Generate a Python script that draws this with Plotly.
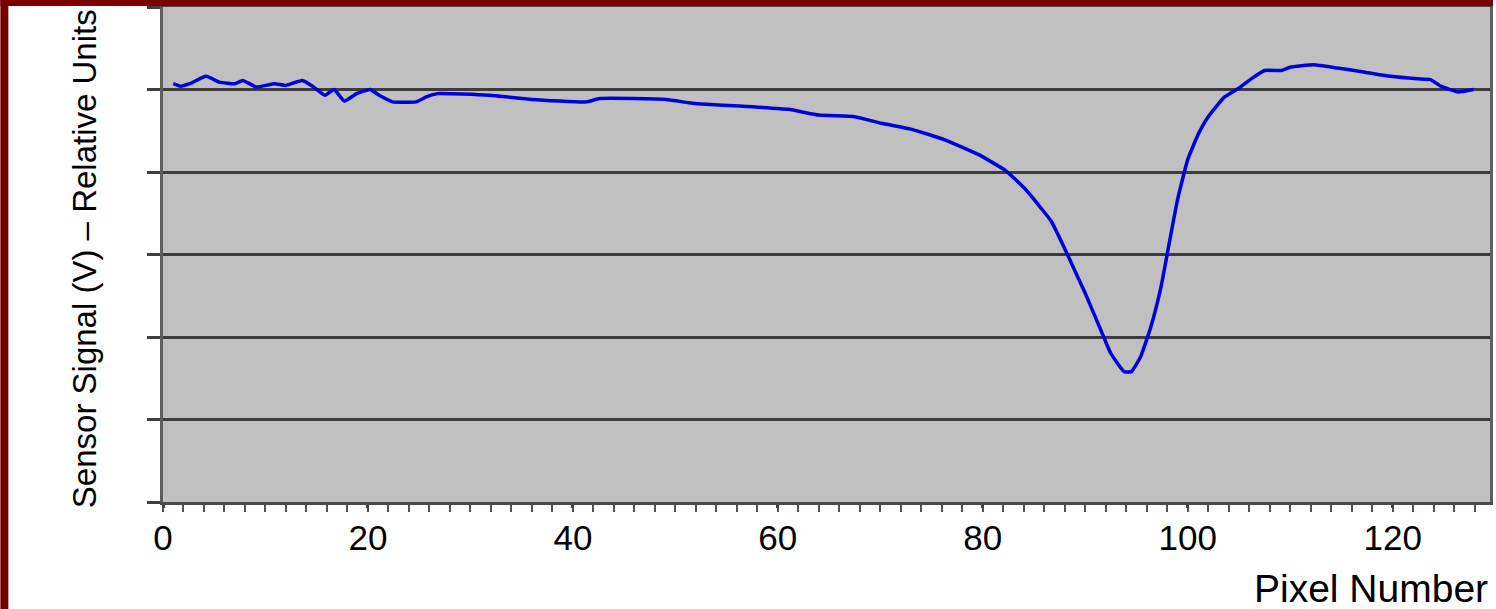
import plotly.graph_objects as go

# ---- data ----
pixel_number = [1, 1.7, 2.6, 4.2, 5.5, 7.0, 7.8, 9.1, 10.9, 12.0,
                13.6, 14.6, 15.8, 16.7, 17.7, 18.9, 20.2, 21.1, 22.4, 24.7,
                25.7, 26.8, 31.8, 36, 41.3, 42.6, 49.1, 51.3, 53, 56.2,
                61, 64, 67.5, 70.1, 73, 76.3, 79.6, 82.2, 84.1, 85.7,
                86.7, 88, 89, 90, 91.6, 92.5, 93.8, 94.5, 95.4, 96.4, 97.4,
                98.2, 99, 100, 101, 102, 103.6, 104.9, 106.1, 107.5, 109.1,
                110, 112.3, 114.6, 117.3, 119.8, 122.4, 123.7, 124.7, 126.4, 127.9]
sensor_signal = [5.07, 5.04, 5.07, 5.16, 5.09, 5.07, 5.11, 5.03, 5.07, 5.05,
                 5.11, 5.04, 4.93, 5.0, 4.86, 4.95, 5.0, 4.93, 4.85, 4.85,
                 4.91, 4.95, 4.93, 4.88, 4.85, 4.89, 4.88, 4.84, 4.82, 4.80,
                 4.76, 4.69, 4.67, 4.59, 4.52, 4.39, 4.21, 4.02, 3.80, 3.56,
                 3.40, 3.07, 2.8, 2.53, 2.06, 1.8, 1.58, 1.58, 1.76, 2.12, 2.61,
                 3.14, 3.66, 4.15, 4.45, 4.67, 4.91, 5.01, 5.12, 5.23, 5.23,
                 5.27, 5.30, 5.26, 5.21, 5.16, 5.13, 5.12, 5.04, 4.97, 5.0]
x_tick_values = [0, 20, 40, 60, 80, 100, 120]
x_tick_labels = ["0", "20", "40", "60", "80", "100", "120"]
x_title = "Pixel Number"
y_title = "Sensor Signal (V) \u2013 Relative Units"

# ---- layout geometry ----
W, H = 1496, 609
ML, MR, MT, MB = 163, 3, 7, 107
PW, PH = W - ML - MR, H - MT - MB
X_RANGE = [0, 129.5]


def px_x(p):
    return (p - ML) / PW


def px_y(p):
    return (H - MB - p) / PH


fig = go.Figure()
fig.add_trace(go.Scatter(
    x=pixel_number, y=sensor_signal, mode="lines",
    line=dict(color="#0000dd", width=3.5, shape="spline", smoothing=0.4),
    showlegend=False, hoverinfo="skip"))

tickfont = dict(family="Liberation Sans, Arial, sans-serif", size=35, color="#000000")

fig.update_layout(
    width=W, height=H,
    margin=dict(l=ML, r=MR, t=MT, b=MB, pad=0),
    paper_bgcolor="#ffffff", plot_bgcolor="#c0c0c0",
    xaxis=dict(range=X_RANGE, tickmode="array", tickvals=x_tick_values,
               ticktext=x_tick_labels, ticks="outside", ticklen=3, tickwidth=2.5,
               tickcolor="#404040", tickfont=tickfont, ticklabelstandoff=0,
               showgrid=False, zeroline=False, showline=True, linecolor="#4a4a4a",
               linewidth=3, mirror=True,
               minor=dict(dtick=2, tick0=0, ticks="outside", ticklen=7,
                          tickwidth=2, tickcolor="#505050", showgrid=False)),
    xaxis2=dict(range=X_RANGE, overlaying="x", side="bottom", tickmode="array",
                tickvals=x_tick_values, ticks="inside", ticklen=10, tickwidth=2.5,
                tickcolor="#404040", showticklabels=False, showgrid=False,
                zeroline=False, showline=False),
    xaxis3=dict(range=X_RANGE, overlaying="x", side="bottom", tickmode="array",
                tickvals=x_tick_values, ticks="outside", ticklen=10, tickwidth=2.5,
                tickcolor="#404040", showticklabels=False, showgrid=False,
                zeroline=False, showline=False),
    yaxis=dict(range=[0, 6], dtick=1, tick0=0, ticks="outside", ticklen=13,
               tickwidth=2.5, tickcolor="#404040", showticklabels=False,
               showgrid=True, gridcolor="#3c3c3c", gridwidth=2.5, zeroline=False,
               showline=True, linecolor="#5f5f5f", linewidth=3, mirror=True),
    shapes=[
        dict(type="rect", xref="paper", yref="paper", x0=px_x(0), x1=px_x(8),
             y0=px_y(H), y1=px_y(0), fillcolor="#760000", line=dict(width=0), layer="above"),
        dict(type="rect", xref="paper", yref="paper", x0=px_x(0), x1=px_x(W),
             y0=px_y(6), y1=px_y(0), fillcolor="#7a0000", line=dict(width=0), layer="above"),
    ],
    annotations=[
        dict(text=x_title, xref="paper", yref="paper", x=px_x(1493), y=px_y(588),
             xanchor="right", yanchor="middle", showarrow=False,
             font=dict(family="Liberation Sans, Arial, sans-serif", size=39, color="#000000")),
        dict(text=y_title, xref="paper", yref="paper", x=px_x(84), y=px_y(259),
             xanchor="center", yanchor="middle", textangle=-90, showarrow=False,
             font=dict(family="Liberation Sans, Arial, sans-serif",
                       size=33, color="#000000")),
    ],
)

fig.write_html("out.html",
               config={"displayModeBar": False},
               post_script="document.body.style.margin='0';document.body.style.padding='0';"
                           "document.body.style.overflow='hidden';")
